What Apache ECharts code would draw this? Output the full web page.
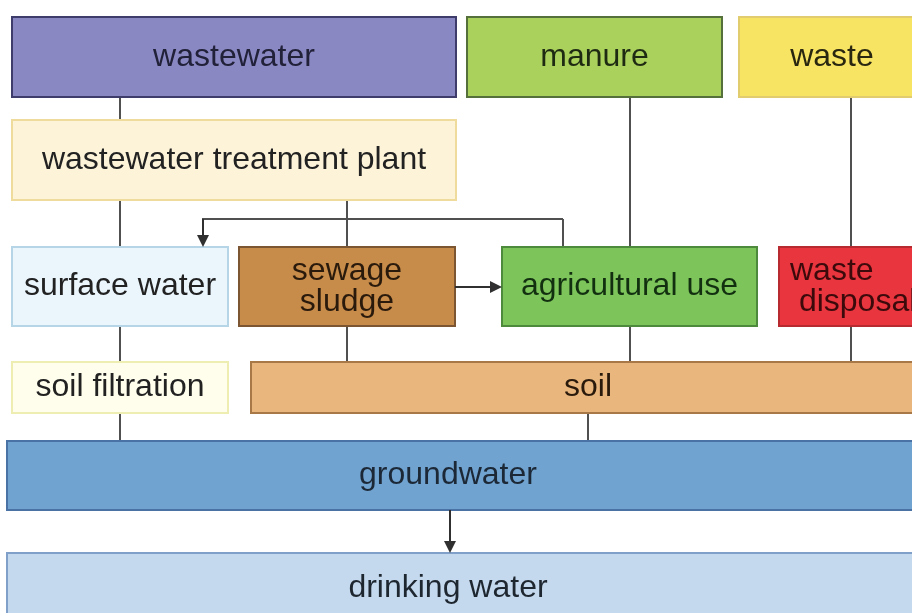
<!DOCTYPE html>
<html>
<head>
<meta charset="utf-8">
<script src="https://cdn.jsdelivr.net/npm/echarts@6/dist/echarts.min.js"></script>
<style>
  html, body { margin: 0; padding: 0; background: #fff; }
  #main { width: 912px; height: 613px; }
</style>
</head>
<body>
<div id="main"></div>
<script>
// boxes of the flow diagram
const boxNames = ['wastewater', 'manure', 'waste', 'wastewater treatment plant', 'surface water',
  'sewage\nsludge', 'agricultural use', 'waste\n disposal', 'soil filtration', 'soil', 'groundwater', 'drinking water']
// box extents in diagram units (x right, y down)
const boxX0 = [12, 467, 739, 12, 12, 239, 502, 779, 12, 251, 7, 7]
const boxY0 = [17, 17, 17, 120, 247, 247, 247, 247, 362, 362, 441, 553]
const boxX1 = [456, 722, 927, 456, 228, 455, 757, 940, 228, 925, 930, 930]
const boxY1 = [97, 97, 97, 200, 326, 326, 326, 326, 413, 413, 510, 660]
// plain connector segments
const plainLinks = [
  [[120, 97], [120, 120]],
  [[120, 200], [120, 247]],
  [[120, 326], [120, 362]],
  [[120, 413], [120, 441]],
  [[347, 200], [347, 247]],
  [[347, 326], [347, 362]],
  [[563, 247], [563, 219]],
  [[563, 219], [202, 219]],
  [[630, 97], [630, 247]],
  [[630, 326], [630, 362]],
  [[851, 97], [851, 247]],
  [[851, 326], [851, 362]],
  [[588, 413], [588, 441]]
]
// connector segments ending in an arrow head
const arrowLinks = [
  [[203, 219], [203, 241]],
  [[455, 287], [496, 287]],
  [[450, 510], [450, 547]]
]

const boxStyle = [
  { fill: '#8a88c2', stroke: '#3e3c6a', text: '#22213a' },
  { fill: '#aad15c', stroke: '#55703a', text: '#1f2a12' },
  { fill: '#f8e463', stroke: '#e2cc70', text: '#2a2710' },
  { fill: '#fdf3d8', stroke: '#efdc9c', text: '#222' },
  { fill: '#eaf6fc', stroke: '#b6d6e8', text: '#222' },
  { fill: '#c78b4a', stroke: '#7c5632', text: '#2a1a0c' },
  { fill: '#7dc55b', stroke: '#4e8a3c', text: '#123010' },
  { fill: '#e8353e', stroke: '#b62a30', text: '#3d0a0c' },
  { fill: '#fffdeb', stroke: '#eeedb2', text: '#222' },
  { fill: '#e9b67d', stroke: '#a87846', text: '#2a1a0c' },
  { fill: '#70a3d0', stroke: '#4a72a4', text: '#1c2836' },
  { fill: '#c4d9ed', stroke: '#809fc9', text: '#1e2630' }
]

const boxData = boxNames.map(function (n, i) {
  return [boxX0[i], boxY0[i], boxX1[i], boxY1[i], i]
})

const myChart = echarts.init(document.getElementById('main'))
myChart.setOption({
  animation: false,
  grid: { left: 0, right: 0, top: 0, bottom: 0 },
  xAxis: { type: 'value', min: 0, max: 912, show: false },
  yAxis: { type: 'value', min: 0, max: 613, inverse: true, show: false },
  series: [
    {
      type: 'lines',
      coordinateSystem: 'cartesian2d',
      z: 1,
      symbol: ['none', 'none'],
      lineStyle: { color: '#505050', width: 2, opacity: 1 },
      data: plainLinks.map(function (c) { return { coords: c } })
    },
    {
      type: 'lines',
      coordinateSystem: 'cartesian2d',
      z: 3,
      symbol: ['none', 'triangle'],
      symbolSize: [10, 12],
      lineStyle: { color: '#303030', width: 2, opacity: 1 },
      data: arrowLinks.map(function (c) { return { coords: c } })
    },
    {
      type: 'custom',
      coordinateSystem: 'cartesian2d',
      z: 2,
      encode: { x: [0, 2], y: [1, 3] },
      data: boxData,
      renderItem: function (params, api) {
        const i = api.value(4)
        const p0 = api.coord([api.value(0), api.value(1)])
        const p1 = api.coord([api.value(2), api.value(3)])
        const st = boxStyle[i]
        const name = boxNames[i]
        // text sits in the visible part of the box
        let tx = (p0[0] + Math.min(p1[0], 925)) / 2
        let align = 'center'
        if (i === 7) { tx = p0[0] + 11; align = 'left' }
        if (i === 10 || i === 11) tx = 448
        const ty = i === 11 ? 588 : (p0[1] + p1[1]) / 2
        return {
          type: 'group',
          children: [
            {
              type: 'rect',
              shape: { x: p0[0], y: p0[1], width: p1[0] - p0[0], height: p1[1] - p0[1] },
              style: { fill: st.fill, stroke: st.stroke, lineWidth: 2 }
            },
            {
              type: 'text',
              style: {
                text: name,
                x: tx,
                y: ty,
                align: align,
                verticalAlign: 'middle',
                fill: st.text,
                font: '32px "Liberation Sans", Arial, sans-serif',
                lineHeight: 31
              }
            }
          ]
        }
      }
    }
  ]
})
</script>
</body>
</html>
